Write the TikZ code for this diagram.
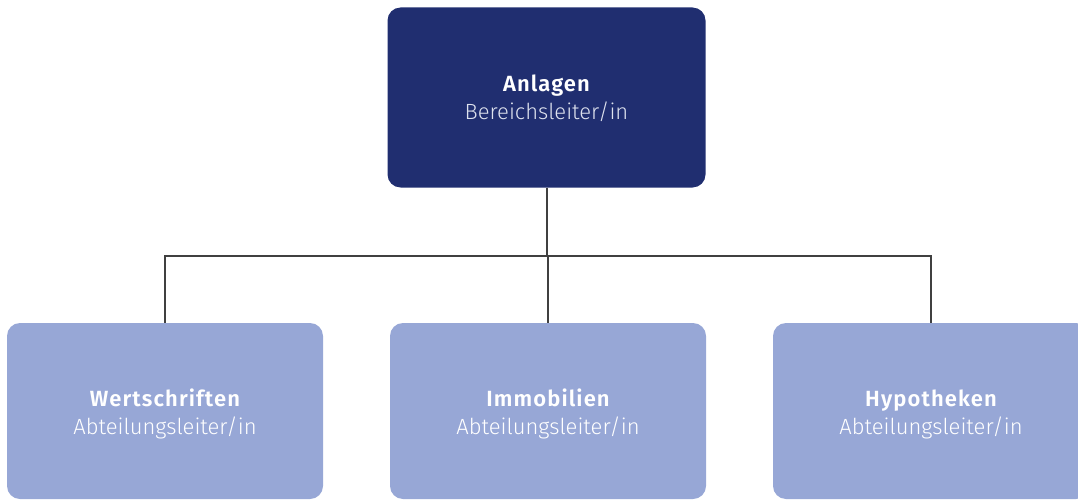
\documentclass[tikz,border=0pt]{standalone}
\usepackage{fontspec}
\setmainfont{Fira Sans}[UprightFont={* Light}, BoldFont={* SemiBold}]
\newfontfamily\titlefont{Fira Sans}[UprightFont={* SemiBold}, LetterSpace=5]
\definecolor{navy}{RGB}{32,46,112}
\definecolor{lightblue}{RGB}{151,167,214}
\definecolor{subgray}{RGB}{222,226,238}
\definecolor{linegray}{RGB}{64,64,64}
\begin{document}
\begin{tikzpicture}[x=1pt,y=-1pt,
  box/.style={rounded corners=13pt, inner sep=0pt},
  txt/.style={align=center, inner sep=0pt, font=\fontsize{22}{28}\selectfont},
  topbox/.style={box, fill=navy, minimum width=318pt, minimum height=180pt},
  subbox/.style={box, fill=lightblue, minimum width=316pt, minimum height=176pt},
  conn/.style={draw=linegray, line width=2pt}]
\useasboundingbox (0,0) rectangle (1078,500);
\node[topbox] (top) at (546.5,97.5) {};
\node[txt, text=white] (topt) at (546.5,98.5) {{\titlefont Anlagen}\\\color{subgray}Bereichsleiter/in};
\node[subbox] (w) at (165,411) {};
\node[subbox] (i) at (548,411) {};
\node[subbox] (h) at (931,411) {};
\node[txt, text=white] (wt) at (165,414) {{\titlefont Wertschriften}\\Abteilungsleiter/in};
\node[txt, text=white] (it) at (548,414) {{\titlefont Immobilien}\\Abteilungsleiter/in};
\node[txt, text=white] (ht) at (931,414) {{\titlefont Hypotheken}\\Abteilungsleiter/in};
\coordinate (bus) at (546.5,256);
\draw[conn] (top.south) -- (bus);
\draw[conn] (w.north) |- (bus) -| (h.north);
\draw[conn] (i.north) -- (i.north |- bus);
\end{tikzpicture}
\end{document}
